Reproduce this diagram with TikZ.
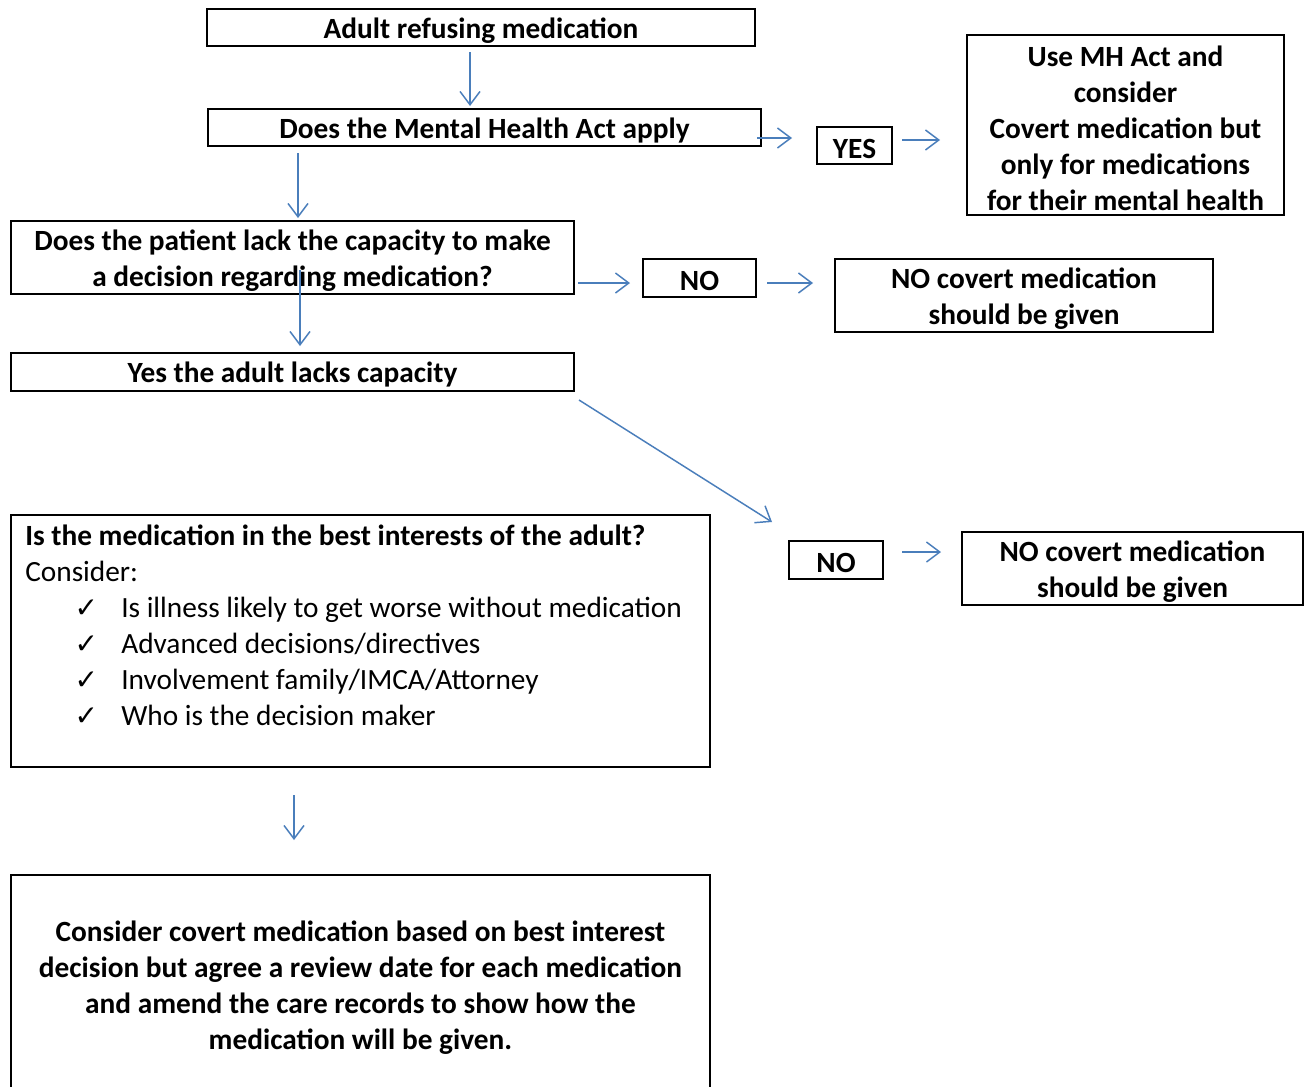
\documentclass[tikz,border=0pt]{standalone}
\usepackage{fontspec}
\setmainfont{Carlito}
\newfontfamily\symfont{DejaVu Sans}
\usetikzlibrary{arrows.meta,calc}
\newcommand{\fs}{\fontsize{22}{27}\selectfont}
\newcommand{\chk}{\hspace*{37pt}\makebox[35pt][l]{\symfont\fontsize{21}{27}\selectfont ✓}}
\newcommand{\bx}[6]{%
  \node[box, minimum width=#4*0.75pt, minimum height=#5*0.75pt] (#1) at (#2,#3) {};
  \node[boxtxt] (#1-t) at ($(#1.center)+(0,3)$) {#6};}
\tikzset{
  box/.style={draw, line width=1.5pt, inner sep=0pt, outer sep=0pt},
  boxtxt/.style={inner sep=0pt, align=center, font=\fs\bfseries},
  arr/.style={draw={rgb,255:red,74;green,126;blue,187}, line width=1.1pt, -{Straight Barb[length=10pt,width=15pt,line width=1.1pt]}},
}
\begin{document}
\begin{tikzpicture}[x=0.75pt,y=-0.75pt]
\useasboundingbox[fill=white] (0,0) rectangle (1309,1086);
\bx{A}{481}{27.5}{548}{37}{Adult refusing medication}
\bx{B}{484.5}{127.5}{553}{37}{Does the Mental Health Act apply}
\bx{YES}{854.5}{145.5}{75}{37}{YES}
\bx{MH}{1125.5}{125}{317}{180}{Use MH Act and\\consider\\Covert medication but\\only for medications\\for their mental health}
\bx{C}{292.5}{257.5}{563}{73}{Does the patient lack the capacity to make\\a decision regarding medication?}
\bx{NOa}{699.5}{278}{113}{38}{NO}
\bx{NCa}{1024}{295.5}{378}{73}{NO covert medication\\should be given}
\bx{D}{292.5}{372}{563}{38}{Yes the adult lacks capacity}
\bx{NOb}{836}{560}{94}{38}{NO}
\bx{NCb}{1132.5}{568.5}{341}{73}{NO covert medication\\should be given}
\node[box, minimum width=699*0.75pt, minimum height=252*0.75pt] (E) at (360.5,641) {};
\node[anchor=north west, inner sep=0pt, align=left, font=\fs] (Et) at ($(E.north west)+(14,9.5)$) {\textbf{Is the medication in the best interests of the adult?}\\
Consider:\\
\chk Is illness likely to get worse without medication\\
\chk Advanced decisions/directives\\
\chk Involvement family/IMCA/Attorney\\
\chk Who is the decision maker};
\bx{F}{360.5}{984.5}{699}{219}{Consider covert medication based on best interest\\decision but agree a review date for each medication\\and amend the care records to show how the\\medication will be given.}
\draw[arr] ($(A.south)+(-11,6)$) -- ($(B.north)+(-14.5,-3)$);
\draw[arr] ($(B.east)+(-4,10.5)$) -- ($(YES.west)+(-25,-7.5)$);
\draw[arr] ($(YES.east)+(10,-5.5)$) -- ($(MH.west)+(-27,15)$);
\draw[arr] ($(B.south west)+(90,7)$) -- ($(C.north)+(5.5,-3)$);
\draw[arr] ($(C.east)+(4,25.5)$) -- ($(NOa.west)+(-13,5)$);
\draw[arr] ($(NOa.east)+(11,5)$) -- ($(NCa.west)+(-22,-12.5)$);
\draw[arr] ($(C.center)+(7.5,12.5)$) -- ($(D.north)+(7.5,-7)$);
\draw[arr] ($(D.south east)+(5,9)$) -- ($(NOb.north west)+(-17,-19)$);
\draw[arr] ($(NOb.east)+(19,-8)$) -- ($(NCb.west)+(-21,-16.5)$);
\draw[arr] ($(E.south)+(-66.5,28)$) -- ($(F.north)+(-66.5,-35)$);
\end{tikzpicture}
\end{document}
